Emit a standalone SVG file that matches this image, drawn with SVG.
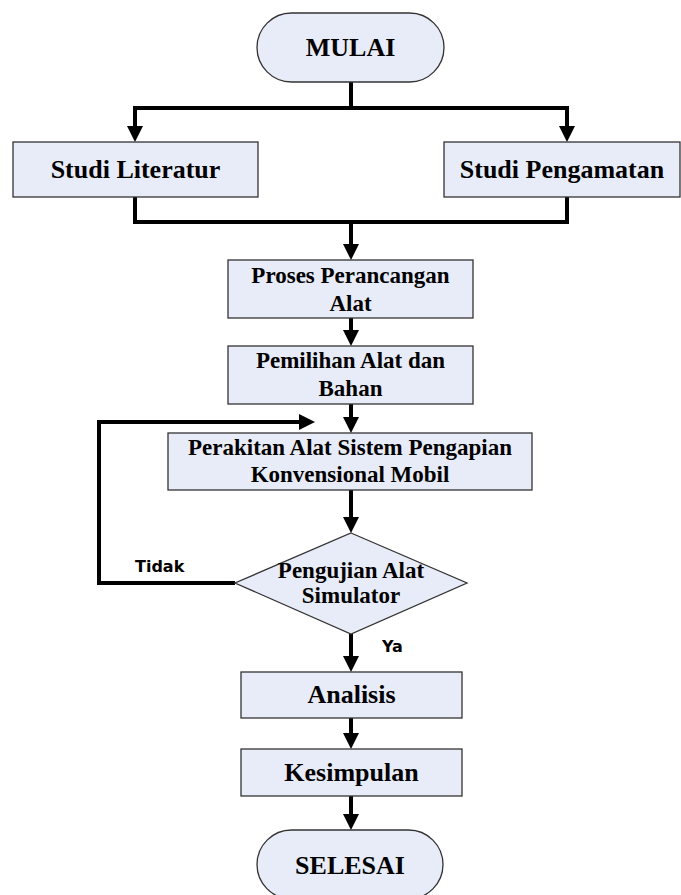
<svg xmlns="http://www.w3.org/2000/svg" width="681" height="895" viewBox="0 0 681 895">
<style>
.box{fill:#e8ecf8;stroke:#333;stroke-width:1.3}
.t{font-family:"Liberation Serif","Times New Roman",serif;font-weight:bold;fill:#000;text-anchor:middle}
.big{font-size:26px}
.mid{font-size:23px}
.lbl{font-family:"DejaVu Sans",Arial,sans-serif;font-weight:bold;font-size:16px;fill:#000}
.c{fill:none;stroke:#000;stroke-width:4;stroke-linejoin:miter}
.a{marker-end:url(#arr)}
</style>
<defs>
<marker id="arr" viewBox="0 0 16 16" markerWidth="16" markerHeight="16" refX="8" refY="8" orient="auto" markerUnits="userSpaceOnUse">
<path d="M0,0 L16,8 L0,16 z" fill="#000"/>
</marker>
</defs>
<g id="connectors">
<path class="c a" d="M351,82 V108 H135 V134"/>
<path class="c a" d="M351,108 H567 V134"/>
<path class="c" d="M135,197 V222 H567 V197"/>
<path class="c a" d="M351,222 V252"/>
<path class="c a" d="M351,318 V338"/>
<path class="c a" d="M351,404 V425"/>
<path class="c a" d="M351,490 V525"/>
<path class="c a" d="M235,583 H99 V422 H307"/>
<path class="c a" d="M351,634 V664"/>
<path class="c a" d="M351,718 V741"/>
<path class="c a" d="M351,796 V822"/>
</g>
<g id="mulai">
<rect class="box" x="257" y="13" width="187" height="69" rx="34.5"/>
<text class="t big" x="350.5" y="56">MULAI</text>
</g>
<g id="studi-literatur">
<rect class="box" x="13" y="142" width="245" height="55"/>
<text class="t big" x="135.5" y="178">Studi Literatur</text>
</g>
<g id="studi-pengamatan">
<rect class="box" x="444" y="142" width="236" height="55"/>
<text class="t big" x="562" y="178">Studi Pengamatan</text>
</g>
<g id="proses">
<rect class="box" x="228" y="260" width="245" height="58"/>
<text class="t mid" x="350.5" y="283">Proses Perancangan</text>
<text class="t mid" x="350.5" y="311">Alat</text>
</g>
<g id="pemilihan">
<rect class="box" x="228" y="346" width="245" height="58"/>
<text class="t mid" x="350.5" y="368">Pemilihan Alat dan</text>
<text class="t mid" x="350.5" y="396">Bahan</text>
</g>
<g id="perakitan">
<rect class="box" x="168" y="433" width="364" height="57"/>
<text class="t mid" x="350" y="455">Perakitan Alat Sistem Pengapian</text>
<text class="t mid" x="350" y="482">Konvensional Mobil</text>
</g>
<g id="pengujian">
<polygon class="box" points="351,533 467,583 351,634 235,583"/>
<text class="t mid" x="351" y="578">Pengujian Alat</text>
<text class="t mid" x="351" y="603">Simulator</text>
</g>
<g id="analisis">
<rect class="box" x="241" y="672" width="221" height="46"/>
<text class="t big" x="351.5" y="703">Analisis</text>
</g>
<g id="kesimpulan">
<rect class="box" x="241" y="749" width="221" height="47"/>
<text class="t big" x="351.5" y="781">Kesimpulan</text>
</g>
<g id="selesai">
<rect class="box" x="257" y="830" width="186" height="69" rx="34.5"/>
<text class="t big" x="350" y="874">SELESAI</text>
</g>
<g id="labels">
<text class="lbl" x="135" y="572">Tidak</text>
<text class="lbl" x="382" y="652">Ya</text>
</g>
</svg>
